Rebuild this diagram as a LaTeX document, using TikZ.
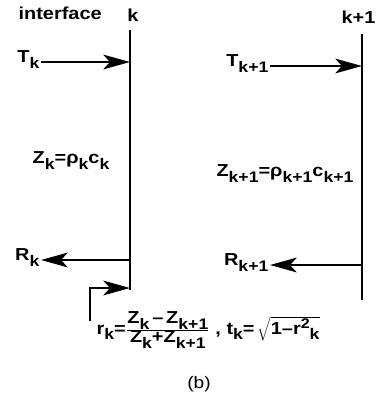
\documentclass[tikz,border=0pt]{standalone}
\usepackage{fontspec}
\setmainfont{Liberation Sans}[FakeStretch=1.15]
\usetikzlibrary{arrows.meta}
\newcommand{\sbs}[1]{\raisebox{-0.65ex}{\fontsize{11.5}{13}\selectfont #1}}
\newcommand{\sps}[1]{\raisebox{0.6ex}{\fontsize{10.5}{12}\selectfont #1}}

\begin{document}
\begin{tikzpicture}[x=0.75pt,y=-0.75pt,font=\fontsize{13}{15}\selectfont\bfseries,line cap=butt,
  wall/.style={line width=1.6pt},
  ray/.style={line width=1.8pt,-{Stealth[length=20pt,width=11pt,inset=5pt]}},
  lbl/.style={inner sep=1pt}]
\useasboundingbox (0,0) rectangle (376,400);
% interfaces
\coordinate (ktop) at (130,30);
\coordinate (kbot) at (130,290);
\coordinate (k1top) at (362,34);
\coordinate (k1bot) at (362,300);
\draw[wall] (ktop) -- (kbot);
\draw[wall] (k1top) -- (k1bot);
\node[lbl,anchor=west] (iface) at (17,13) {interface};
\node[lbl] (lk) at (133,15) {k};
\node[lbl,anchor=east] (lk1) at (377,17) {k+1};
% incident waves
\node[lbl,anchor=east] (Tk) at (41,60) {T\sbs{k}};
\coordinate (kT) at (130,62);
\draw[ray] (Tk.east |- kT) -- (kT);
\node[lbl,anchor=east] (Tk1) at (270,64) {T\sbs{k+1}};
\coordinate (k1T) at (362,66);
\draw[ray] (Tk1.east |- k1T) -- (k1T);
% impedances
\node[lbl] (Zk) at (71,161) {Z\sbs{k}=ρ\sbs{k}c\sbs{k}};
\node[lbl] (Zk1) at (285,174) {Z\sbs{k+1}=ρ\sbs{k+1}c\sbs{k+1}};
% reflected waves
\node[lbl,anchor=east] (Rk) at (41,258) {R\sbs{k}};
\coordinate (kR) at (130,260);
\draw[ray] (kR) -- (Rk.east |- kR);
\node[lbl,anchor=east] (Rk1) at (270,263) {R\sbs{k+1}};
\coordinate (k1R) at (362,265);
\draw[ray] (k1R) -- (Rk1.east |- k1R);
% coefficients
\coordinate (hook) at (90,321);
\coordinate (kH) at (130,288);
\draw[ray] (hook) -- (hook |- kH) -- (kH);
\node[lbl,anchor=west] (coef) at (95,330) {r\sbs{k}=$\frac{\mbox{Z\sbs{k}\,\textendash\,Z\sbs{k+1}}}{\mbox{Z\sbs{k}+Z\sbs{k+1}}}$\ ,\ t\sbs{k}=\,$\sqrt{\mbox{1\textendash r\sps{2}\sbs{k}}}$};
\node[lbl,font=\fontsize{12.5}{14}\selectfont] (cap) at (199,384) {(b)};
\end{tikzpicture}
\end{document}
